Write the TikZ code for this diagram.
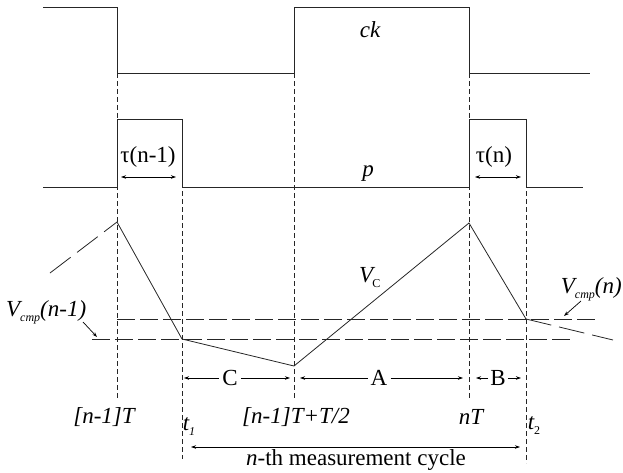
\documentclass[tikz,border=0pt]{standalone}
\usepackage{fontspec}
\setmainfont{Liberation Serif}
\usetikzlibrary{arrows.meta}
\begin{document}
\begin{tikzpicture}[x=1pt,y=-1pt,
  wave/.style={line width=0.9pt, black!85},
  guide/.style={line width=0.8pt, black!85, dash pattern=on 5pt off 3pt},
  lvl/.style={line width=0.8pt, black!85, dash pattern=on 18pt off 5pt},
  ext/.style={line width=0.8pt, black!85, dash pattern=on 26pt off 8pt},
  dimarr/.style={line width=0.7pt, {Stealth[length=5pt,width=3.5pt]}-{Stealth[length=5pt,width=3.5pt]}},
  ptr/.style={line width=0.7pt, -{Stealth[length=5pt,width=3.5pt]}},
  lab/.style={font=\fontsize{23}{26}\selectfont\itshape, inner sep=0pt},
  rlab/.style={font=\fontsize{23}{26}\selectfont, inner sep=0pt},
]
\useasboundingbox (0,0) rectangle (623,473);
% key coordinates
\coordinate (ck0) at (43,7);
\coordinate (ck1) at (117,7);
\coordinate (ck2) at (117,73);
\coordinate (ck3) at (294,73);
\coordinate (ck4) at (294,7);
\coordinate (ck5) at (469,7);
\coordinate (ck6) at (469,73);
\coordinate (ck7) at (590,73);
\coordinate (p0) at (43,187);
\coordinate (p1) at (117,187);
\coordinate (p2) at (117,119);
\coordinate (p3) at (182,119);
\coordinate (p4) at (182,187);
\coordinate (p5) at (469,187);
\coordinate (p6) at (469,119);
\coordinate (p7) at (526,119);
\coordinate (p8) at (526,187);
\coordinate (p9) at (583,187);
% clock and pulse
\draw[wave] (ck0) -- (ck1) -- (ck2) -- (ck3) -- (ck4) -- (ck5) -- (ck6) -- (ck7);
\draw[wave] (p0) -- (p1) -- (p2) -- (p3) -- (p4) -- (p5) -- (p6) -- (p7) -- (p8) -- (p9);
% vertical guides
\coordinate (g1) at (117,400);
\coordinate (g2) at (182,459);
\coordinate (g3) at (294,398);
\coordinate (g4) at (469,400);
\coordinate (g5) at (526,463);
\draw[guide] (ck2) -- (g1);
\draw[guide] (p3) -- (g2);
\draw[guide] (ck3) -- (g3);
\draw[guide] (ck6) -- (g4);
\draw[guide] (p7) -- (g5);
% capacitor voltage
\coordinate (v0) at (50,273);
\coordinate (v1) at (117,222);
\coordinate (v2) at (182,339);
\coordinate (v3) at (294,366);
\coordinate (v4) at (469,223);
\coordinate (v5) at (526,319);
\coordinate (v6) at (613,340);
\draw[ext] (v0) -- (v1);
\draw[wave, line width=0.8pt] (v1) -- (v2) -- (v3) -- (v4) -- (v5);
\draw[ext] (v5) -- (v6);
% comparator levels
\coordinate (l1a) at (117,319);
\coordinate (l1b) at (597,319);
\coordinate (l2a) at (92,339);
\coordinate (l2b) at (571,339);
\draw[lvl] (l1a) -- (l1b);
\draw[lvl] (l2a) -- (l2b);
% labels on signals
\node[lab] (ck) at (370,30) {ck};
\node[lab, anchor=base] (p) at (368,177) {p};
\node[rlab] (tau1) at (148,157) {τ(n-1)};
\node[rlab] (tau2) at (494,157) {τ(n)};
\coordinate (ta1) at (121,177);
\coordinate (ta2) at (176,177);
\coordinate (tb1) at (475,177);
\coordinate (tb2) at (521,177);
\draw[dimarr] (ta1) -- (ta2);
\draw[dimarr] (tb1) -- (tb2);
\node[lab, anchor=base west] (vc) at (359,282) {V\kern-1pt\raisebox{-5pt}{\fontsize{12}{12}\selectfont\upshape C}};
\node[lab, anchor=base west] (vcmp1) at (6,316) {V\raisebox{-5pt}{\fontsize{12}{12}\selectfont cmp}(n-1)};
\node[lab, anchor=base east] (vcmp2) at (622,293) {V\raisebox{-5pt}{\fontsize{12}{12}\selectfont cmp}(n)};
\coordinate (q1) at (83,322);
\coordinate (q2) at (97,337);
\coordinate (r1) at (581,301);
\coordinate (r2) at (564,316);
\draw[ptr] (q1) -- (q2);
\draw[ptr] (r1) -- (r2);
% intervals
\node[rlab] (C) at (230,378) {C};
\node[rlab] (A) at (379,378) {A};
\node[rlab] (B) at (498,378) {B};
\coordinate (c1) at (184,378);
\coordinate (c2) at (290,378);
\coordinate (a1) at (300,378);
\coordinate (a2) at (463,378);
\coordinate (b1) at (476,378);
\coordinate (b2) at (521,378);
\draw[ptr] ([xshift=-3pt]C.west) -- (c1);
\draw[ptr] ([xshift=3pt]C.east) -- (c2);
\draw[ptr] ([xshift=-3pt]A.west) -- (a1);
\draw[ptr] ([xshift=3pt]A.east) -- (a2);
\draw[ptr] ([xshift=-2pt]B.west) -- (b1);
\draw[ptr] ([xshift=2pt]B.east) -- (b2);
% time labels
\node[lab] (T1) at (104,417) {[n-1]T};
\node[lab] (t1) at (189,427) {t\raisebox{-5pt}{\fontsize{12}{12}\selectfont 1}};
\node[lab] (T2) at (296,417) {[n-1]T+T/2};
\node[lab] (T3) at (471,417) {nT};
\node[lab] (t2) at (534,426) {t\raisebox{-5pt}{\fontsize{12}{12}\selectfont\upshape 2}};
% measurement cycle
\coordinate (m1) at (191,447);
\coordinate (m2) at (520,447);
\draw[dimarr] (m1) -- (m2);
\node[rlab] (cyc) at (356,460) {\textit{n}-th measurement cycle};
\end{tikzpicture}
\end{document}
